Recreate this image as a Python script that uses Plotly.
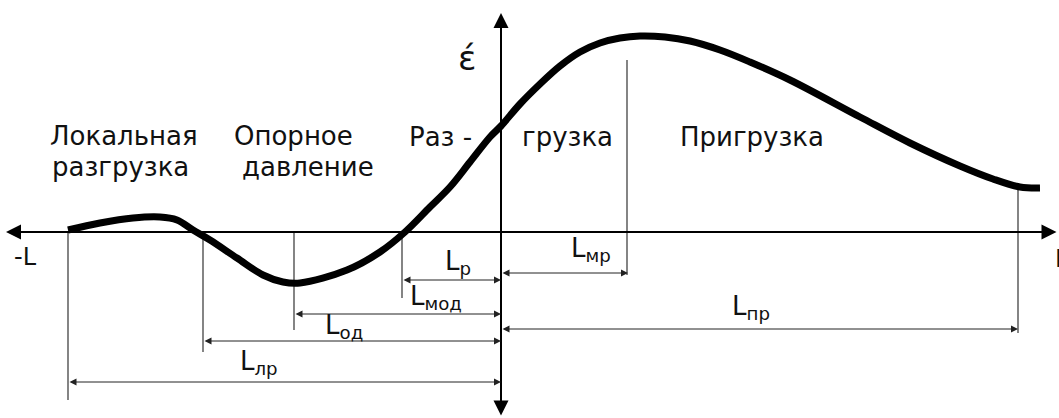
import plotly.graph_objects as go

# Curve: strain distribution along the distance (origin at axis crossing)
curve_x = [-433, -401, -368, -341, -324, -308, -291, -264, -238, -218, -201, -154, -121, -96,
           -71, -51, -31, -11, 0, 19, 39, 59, 79, 99, 119, 139, 164, 189, 219, 249, 289,
           359, 409, 459, 492, 519, 539]
curve_y = [2, 9, 14, 15, 12, 2, -8, -26, -43, -50, -51, -38, -20, 0,
           25, 45, 70, 95, 106, 128, 148, 166, 180, 189, 194, 196, 195, 191, 182, 170, 152,
           115, 89, 66, 53, 45, 44]

# Vertical extension lines
ext_x = [-433, -298, -207, -99, 126, 517]
ext_top = [0, 0, 0, 0, 172, 44]
ext_bottom = [-168, -120, -98, -66, -43, -101]

# Dimension lines
dim_names = ["L<sub>р</sub>", "L<sub>мр</sub>", "L<sub>мод</sub>", "L<sub>од</sub>", "L<sub>лр</sub>", "L<sub>пр</sub>"]
dim_start = [-99, 0, -207, -298, -433, 0]
dim_end = [0, 127, 0, 0, 0, 517]
dim_y = [-48, -41, -82, -109, -150, -97]
dim_label_x = [-58, 68, -93, -178, -263, 229]
dim_label_y = [-30, -17, -65, -94, -130, -75]

# Zone labels
zone_text = ["Локальная", "разгрузка", "Опорное", "давление", "Раз -", "грузка", "Пригрузка"]
zone_x = [-453, -451, -269, -261, -94, 19, 177]
zone_y = [96, 65, 96, 65, 95, 95, 95]

FONT = "DejaVu Sans"
INK = "#111111"

fig = go.Figure()

# extension lines
lx, ly = [], []
for x, t, b in zip(ext_x, ext_top, ext_bottom):
    lx += [x, x, None]
    ly += [t, b, None]
fig.add_trace(go.Scatter(x=lx, y=ly, mode="lines",
                         line=dict(color="#333333", width=1.2), hoverinfo="skip"))

# curve
fig.add_trace(go.Scatter(x=curve_x, y=curve_y, mode="lines",
                         line=dict(color="#000000", width=7, shape="spline", smoothing=1.0),
                         hoverinfo="skip"))

ann = []
# axes arrows
ann.append(dict(x=-495, y=0, ax=557, ay=0, xref="x", yref="y", axref="x", ayref="y",
                text="", showarrow=True, arrowhead=2, arrowsize=1.5, arrowwidth=2,
                arrowside="end+start", arrowcolor="#000000", standoff=0, startstandoff=0))
ann.append(dict(x=0, y=219, ax=0, ay=-185, xref="x", yref="y", axref="x", ayref="y",
                text="", showarrow=True, arrowhead=2, arrowsize=1.5, arrowwidth=2,
                arrowside="end+start", arrowcolor="#000000", standoff=0, startstandoff=0))

# dimension arrows and labels
for name, s, e, y, tx, ty in zip(dim_names, dim_start, dim_end, dim_y, dim_label_x, dim_label_y):
    ann.append(dict(x=e, y=y, ax=s, ay=y, xref="x", yref="y", axref="x", ayref="y",
                    text="", showarrow=True, arrowhead=2, arrowsize=1.4, arrowwidth=1,
                    arrowside="end+start", arrowcolor="#222222", standoff=0, startstandoff=0))
    ann.append(dict(x=tx, y=ty, xref="x", yref="y", text=name, showarrow=False,
                    xanchor="left", yanchor="middle",
                    font=dict(family=FONT, size=26, color=INK)))

for t, x, y in zip(zone_text, zone_x, zone_y):
    ann.append(dict(x=x, y=y, xref="x", yref="y", text=t, showarrow=False,
                    xanchor="left", yanchor="middle",
                    font=dict(family=FONT, size=26, color=INK)))

ann.append(dict(x=-34, y=174, xref="x", yref="y", text="έ", showarrow=False,
                xanchor="center", yanchor="middle", font=dict(family=FONT, size=34, color=INK)))
ann.append(dict(x=-489, y=-25, xref="x", yref="y", text="-L", showarrow=False,
                xanchor="left", yanchor="middle", font=dict(family=FONT, size=24, color=INK)))
ann.append(dict(x=552, y=-27, xref="x", yref="y", text="L", showarrow=False,
                xanchor="left", yanchor="middle", font=dict(family=FONT, size=24, color=INK)))

fig.update_layout(
    width=1059, height=418,
    margin=dict(l=0, r=0, t=0, b=0),
    paper_bgcolor="white", plot_bgcolor="white",
    showlegend=False,
    xaxis=dict(range=[-501, 558], visible=False, fixedrange=True),
    yaxis=dict(range=[-186, 232], visible=False, fixedrange=True),
    annotations=ann,
)

fig.write_html("out.html", config={"displayModeBar": False},
               post_script="document.body.style.margin='0';document.body.style.overflow='hidden';")
